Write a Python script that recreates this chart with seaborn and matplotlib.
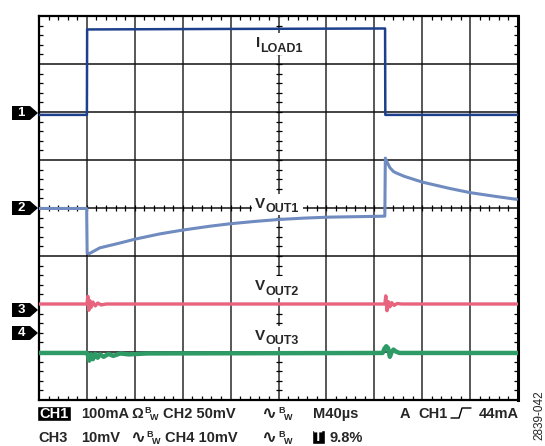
import numpy as np
import pandas as pd
import matplotlib
matplotlib.use("Agg")
import matplotlib.pyplot as plt
from matplotlib.patches import Polygon, Rectangle
from matplotlib.lines import Line2D
import seaborn as sns

# time in us (M40us -> 40 us/div), level in screen divisions (0 = centre line)
t_iload = [0, 40, 40.2, 150, 289, 289.2, 400]
v_iload = [1.94, 1.94, 3.72, 3.73, 3.74, 1.94, 1.94]

t_vout1 = [0, 39.8, 40.2, 42, 50.8, 67.5, 80, 100.8, 120, 142.5, 159, 180, 200,
           221.7, 242.5, 267.5, 288.8, 289.2, 291, 293, 296, 298.3, 305, 320,
           342.5, 360, 381.7, 399]
v_vout1 = [-0.01, -0.01, -0.94, -0.95, -0.83, -0.73, -0.65, -0.54, -0.46, -0.38,
           -0.33, -0.28, -0.24, -0.21, -0.19, -0.18, -0.17, 1.04, 0.94, 0.84,
           0.76, 0.73, 0.66, 0.54, 0.41, 0.32, 0.24, 0.18]

t_vout2 = [0, 40, 40.8, 41.6, 42.5, 43.5, 45, 47, 49, 52, 56, 288.8, 289.6,
           290.6, 291.6, 293, 294.5, 296.5, 299, 303, 400]
v_vout2 = [-2.0, -2.0, -1.84, -2.13, -1.93, -2.07, -1.96, -2.04, -1.98, -2.02,
           -2.0, -2.0, -1.83, -2.14, -1.95, -2.06, -1.97, -2.03, -1.99, -2.0, -2.0]

t_vout3 = [0, 40, 41, 42, 43.5, 45, 47, 49, 51, 54, 58, 62, 68, 75, 90, 287,
           288.5, 290, 291.5, 293, 294.5, 296, 298, 301, 400]
v_vout3 = [-3.02, -3.02, -3.08, -3.18, -3.05, -3.15, -3.04, -3.12, -3.05, -3.1,
           -3.04, -3.08, -3.03, -3.05, -3.03, -3.02, -2.93, -2.88, -2.92, -3.1,
           -3.0, -2.95, -2.99, -3.02, -3.02]

traces = [
    ("ILOAD1", t_iload, v_iload, "#1d3f8c", 1.8),
    ("VOUT1", t_vout1, v_vout1, "#6f8bbf", 2.2),
    ("VOUT2", t_vout2, v_vout2, "#e8637e", 2.4),
    ("VOUT3", t_vout3, v_vout3, "#2e9a66", 3.2),
]

W, H = 545, 446
fig = plt.figure(figsize=(W / 100, H / 100), dpi=100)
sns.set_theme(style="white")
plt.rcParams["font.family"] = ["Liberation Sans", "DejaVu Sans"]


def fx(px):
    return px / W


def fy(py):
    return 1 - py / H


ax = fig.add_axes([fx(39), fy(400), fx(518) - fx(39), fy(16) - fy(400)])
ax.set_facecolor("white")

for name, t, v, color, lw in traces:
    df = pd.DataFrame({"t": t, "v": v})
    sns.lineplot(data=df, x="t", y="v", sort=False, estimator=None, color=color,
                 lw=lw, ax=ax, zorder=4)

ax.set_xlim(0, 400)
ax.set_ylim(-4, 4)
ax.set_xlabel("")
ax.set_ylabel("")

# graticule
for xv in np.arange(40, 400, 40):
    ax.axvline(xv, color="#2a2a2a", lw=1.1, zorder=2)
for yv in np.arange(-3, 4, 1):
    ax.axhline(yv, color="#111111", lw=1.1, zorder=2)
for s in ax.spines.values():
    s.set_color("black")
    s.set_linewidth(1.6)
    s.set_visible(True)
ax.spines["right"].set_linewidth(2.2)

ax.set_xticks(np.arange(0, 401, 40))
ax.set_yticks(np.arange(-4, 4.1, 1))
ax.set_xticks(np.arange(0, 401, 8), minor=True)
ax.set_yticks(np.arange(-4, 4.01, 0.2), minor=True)
ax.tick_params(which="major", length=0, labelbottom=False, labelleft=False)
ax.tick_params(which="minor", direction="in", length=3.2, width=0.9, color="black",
               top=True, bottom=True, left=True, right=True)

# centre-line ticks
xm = np.arange(0, 401, 8)
ym = np.arange(-4, 4.01, 0.2)
ax.plot(xm, np.zeros_like(xm), ls="none", marker="|", ms=5, mew=0.9, color="black", zorder=3)
ax.plot(np.full_like(ym, 200), ym, ls="none", marker="_", ms=5, mew=0.9, color="black", zorder=3)

# trace labels with white background
labels = [("I", "LOAD1", 256, 47, 260, 52),
          ("V", "OUT1", 255, 208, 265, 212),
          ("V", "OUT2", 255, 290, 265, 295),
          ("V", "OUT3", 255, 340, 265, 344)]
for main, sub, x1, y1, x2, y2 in labels:
    fig.patches.append(Rectangle((fx(x1 - 3), fy(y2 + 3)), fx(x2 + 38) - fx(x1 - 3),
                                 fy(y1 - 14) - fy(y2 + 3), transform=fig.transFigure,
                                 facecolor="white", edgecolor="none", zorder=5))
    fig.text(fx(x1), fy(y1), main, fontsize=11, fontweight="bold", va="baseline", zorder=6)
    fig.text(fx(x2), fy(y2), sub, fontsize=9, fontweight="bold", va="baseline", zorder=6)

# channel markers
for num, py in [("1", 113), ("2", 208), ("3", 310), ("4", 333)]:
    pts = [(fx(12), fy(py - 7)), (fx(30), fy(py - 7)), (fx(38), fy(py)),
           (fx(30), fy(py + 7)), (fx(12), fy(py + 7))]
    fig.patches.append(Polygon(pts, closed=True, transform=fig.transFigure,
                               facecolor="black", edgecolor="none", zorder=5))
    fig.text(fx(21), fy(py), num, color="white", fontsize=9.5, fontweight="bold",
             ha="center", va="center", zorder=6)

# readout text
fs = 10.5
b1, b2 = 418, 442
fig.patches.append(Rectangle((fx(37), fy(b1 + 3)), fx(71) - fx(37), fy(b1 - 12) - fy(b1 + 3),
                             transform=fig.transFigure, facecolor="black", zorder=5))
fig.text(fx(39), fy(b1), "CH1", color="white", fontsize=fs, fontweight="bold", va="baseline", zorder=6)
fig.patches.append(Rectangle((fx(312), fy(b2 + 2)), fx(325) - fx(312), fy(b2 - 12) - fy(b2 + 2),
                             transform=fig.transFigure, facecolor="black", zorder=5))
fig.text(fx(318.5), fy(b2 - 5), "T", color="white", fontsize=10, fontweight="bold",
         ha="center", va="center", zorder=6)

sup = 6.5
texts = [
    ("100mA", 81, b1, fs), ("Ω", 131, b1, fs), ("B", 144, b1 - 5, sup), ("W", 150, b1 + 2, sup),
    ("CH2 50mV", 163, b1, fs), ("∿", 261, b1 + 1, 13),
    ("B", 278, b1 - 5, sup), ("W", 284, b1 + 2, sup),
    ("M40µs", 313, b1, fs), ("A", 400, b1, fs), ("CH1", 418, b1, fs), ("44mA", 479, b1, fs),
    ("CH3", 38, b2, fs), ("10mV", 81, b2, fs), ("∿", 130, b2 + 1, 13), ("B", 146, b2 - 5, sup),
    ("W", 152, b2 + 2, sup), ("CH4 10mV", 165, b2, fs), ("∿", 261, b2 + 1, 13),
    ("B", 278, b2 - 5, sup), ("W", 284, b2 + 2, sup), ("9.8%", 330, b2, fs),
]
for s, px, py, size in texts:
    fig.text(fx(px), fy(py), s, fontsize=size, fontweight="bold", va="baseline",
             family=["Liberation Sans", "DejaVu Sans"])

fig.lines.append(Line2D([fx(451), fx(459), fx(462), fx(471)], [fy(b1), fy(b1), fy(b1 - 10), fy(b1 - 10)],
                        transform=fig.transFigure, color="black", lw=1.0))

fig.text(fx(539), fy(415), "2839-042", rotation=90, fontsize=8.5, ha="center", va="center")

fig.savefig("out.png", dpi=100)
